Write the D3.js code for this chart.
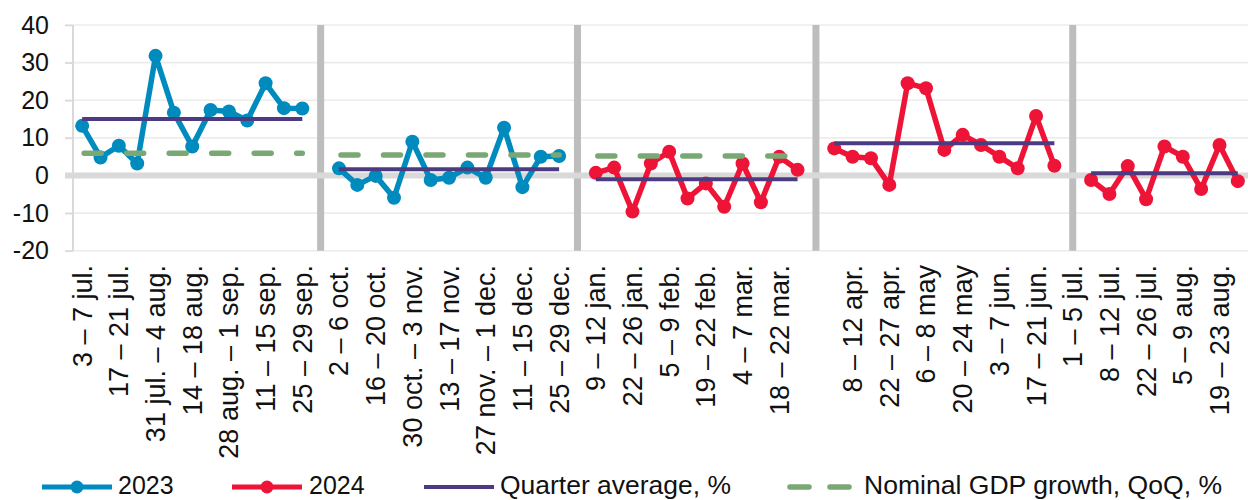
<!DOCTYPE html>
<html>
<head>
<meta charset="utf-8">
<script src="https://cdn.jsdelivr.net/npm/d3@7"></script>
<style>
  html, body { margin: 0; padding: 0; background: #fff; }
  svg { display: block; font-family: "Liberation Sans", Arial, sans-serif; }
</style>
</head>
<body>
<svg id="chart" width="1248" height="500"></svg>
<script>
// ---------------- DATA ----------------
const quarters   = ["Q3 2023", "Q4 2023", "Q1 2024", "Q2 2024", "Q3 2024"];
const quarterYear = ["2023", "2023", "2024", "2024", "2024"];

// weekly values, %, per quarter
const v2023q3 = [13.2, 4.8, 7.9, 3.2, 31.8, 16.7, 7.7, 17.4, 17.0, 14.6, 24.5, 17.9, 17.8];
const v2023q4 = [1.9, -2.5, -0.1, -5.9, 9.0, -1.2, -0.6, 2.1, -0.6, 12.7, -3.1, 5.0, 5.2];
const v2024q1 = [0.7, 2.1, -9.6, 3.2, 6.3, -6.1, -2.1, -8.3, 3.2, -7.1, 5.0, 1.5];
const v2024q2 = [7.2, 5.0, 4.6, -2.5, 24.5, 23.2, 6.8, 10.8, 8.1, 5.0, 1.9, 15.8, 2.6];
const v2024q3 = [-1.2, -4.9, 2.5, -6.3, 7.7, 5.0, -3.6, 8.1, -1.5];
const weekly = [v2023q3, v2023q4, v2024q1, v2024q2, v2024q3];

const quarterAvg = [15.0, 1.65, -1.0, 8.6, 0.6];
const gdpGrowth  = [5.9, 5.45, 5.2, null, null];

// category axis labels (one slot per week plus one empty slot between quarters)
const tickLabels = [
  "3 – 7 jul.", "", "17 – 21 jul.", "", "31 jul. – 4 aug.", "", "14 – 18 aug.", "",
  "28 aug. – 1 sep.", "", "11 – 15 sep.", "", "25 – 29 sep.", "",
  "2 – 6 oct.", "", "16 – 20 oct.", "", "30 oct. – 3 nov.", "", "13 – 17 nov.", "",
  "27 nov. – 1 dec.", "", "11 – 15 dec.", "", "25 – 29 dec.", "",
  "9 – 12 jan.", "", "22 – 26 jan.", "", "5 – 9 feb.", "", "19 – 22 feb.", "",
  "4 – 7 mar.", "", "18 – 22 mar.", "", "",
  "", "8 – 12 apr.", "", "22 – 27 apr.", "", "6 – 8 may", "", "20 – 24 may", "",
  "3 – 7 jun.", "", "17 – 21 jun.", "", "1 – 5 jul.",
  "", "8 – 12 jul.", "", "22 – 26 jul.", "", "5 – 9 aug.", "", "19 – 23 aug.", ""
];
const yTicks = [-20, -10, 0, 10, 20, 30, 40];

// ---------------- STYLE ----------------
const colors = { "2023": "#008bbf", "2024": "#ee1437", avg: "#4d3b82", gdp: "#79a874" };

// ---------------- LAYOUT ----------------
const svg = d3.select("#chart");
const plotLeft = 73, plotRight = 1247, plotTop = 25, plotBottom = 250.75;

// build slot indices: each quarter block followed by an empty separator slot
let slot = 0;
const blocks = weekly.map((vals, q) => {
  const idx = vals.map((v, i) => slot + i);
  slot += vals.length;
  const sep = slot;
  slot += 1;
  return { q, idx, vals, sep };
});
const nSlots = tickLabels.length;

const x = d3.scaleBand().domain(d3.range(nSlots)).range([plotLeft, plotRight]).padding(0);
const cx = i => x(i) + x.bandwidth() / 2;
const y = d3.scaleLinear().domain([d3.min(yTicks), d3.max(yTicks)]).range([plotBottom, plotTop]);

// gridlines
svg.append("g").selectAll("line").data(yTicks.filter(d => d !== 0)).join("line")
  .attr("x1", 65).attr("x2", 1248)
  .attr("y1", d => y(d)).attr("y2", d => y(d))
  .attr("stroke", "#ececec").attr("stroke-width", 1.6);

// separators between quarters
svg.append("g").selectAll("rect").data(blocks.slice(0, blocks.length - 1)).join("rect")
  .attr("x", d => cx(d.sep) - 3.5).attr("width", 7)
  .attr("y", y(40)).attr("height", y(-20) - y(40))
  .attr("fill", "#bdbdbd");

// zero line
svg.append("line")
  .attr("x1", 65).attr("x2", 1248).attr("y1", y(0)).attr("y2", y(0))
  .attr("stroke", "#d9d9d9").attr("stroke-width", 6);

// left axis
const yAxis = d3.axisLeft(y).tickValues(yTicks).tickSize(8).tickPadding(16)
  .tickFormat(d => String(d));
const ga = svg.append("g").attr("transform", `translate(${plotLeft},0)`).call(yAxis);
ga.select(".domain").attr("stroke", "#d9d9d9").attr("stroke-width", 2)
  .attr("d", `M0,${y(40)}V${y(-20)}`);
ga.selectAll(".tick line").attr("stroke", "#d9d9d9").attr("stroke-width", 1.6);
ga.selectAll(".tick text").attr("font-size", 25).attr("fill", "#111")
  .attr("font-family", "Liberation Sans, Arial, sans-serif");

// category labels
svg.append("g").selectAll("text").data(tickLabels.map((t, i) => ({ t, i })).filter(d => d.t))
  .join("text")
  .attr("transform", d => `translate(${cx(d.i)},265) rotate(-90)`)
  .attr("text-anchor", "end").attr("dy", "0.35em")
  .attr("font-size", 27).attr("fill", "#111")
  .text(d => d.t);

// weekly series
const line = d3.line().x(d => cx(d.i)).y(d => y(d.v));
blocks.forEach(b => {
  const pts = b.idx.map((i, k) => ({ i, v: b.vals[k] }));
  const col = colors[quarterYear[b.q]];
  svg.append("path").datum(pts).attr("d", line)
    .attr("fill", "none").attr("stroke", col).attr("stroke-width", 5.5)
    .attr("stroke-linejoin", "round");
  svg.append("g").selectAll("circle").data(pts).join("circle")
    .attr("cx", d => cx(d.i)).attr("cy", d => y(d.v)).attr("r", 7)
    .attr("fill", col);
});

// quarter averages
blocks.forEach(b => {
  const i0 = b.idx[0], i1 = b.idx[b.idx.length - 1];
  svg.append("line")
    .attr("x1", cx(i0)).attr("x2", cx(i1))
    .attr("y1", y(quarterAvg[b.q])).attr("y2", y(quarterAvg[b.q]))
    .attr("stroke", colors.avg).attr("stroke-width", 4);
});

// nominal GDP growth
blocks.forEach(b => {
  const g = gdpGrowth[b.q];
  if (g == null) return;
  const i0 = b.idx[0], i1 = b.idx[b.idx.length - 1];
  svg.append("line")
    .attr("x1", cx(i0) + 2).attr("x2", cx(i1))
    .attr("y1", y(g)).attr("y2", y(g))
    .attr("stroke", colors.gdp).attr("stroke-width", 5.5)
    .attr("stroke-linecap", "round").attr("stroke-dasharray", "17,25.5");
});

// legend
const lg = svg.append("g");
const ly = 487, lt = 494;
[["2023", 42, 118], ["2024", 232, 309]].forEach(([k, x0, tx]) => {
  lg.append("line").attr("x1", x0).attr("x2", x0 + 70).attr("y1", ly).attr("y2", ly)
    .attr("stroke", colors[k]).attr("stroke-width", 5);
  lg.append("circle").attr("cx", x0 + 35).attr("cy", ly).attr("r", 6.5).attr("fill", colors[k]);
  lg.append("text").attr("x", tx).attr("y", lt).attr("font-size", 25).attr("fill", "#111").text(k);
});
lg.append("line").attr("x1", 424).attr("x2", 494).attr("y1", ly).attr("y2", ly)
  .attr("stroke", colors.avg).attr("stroke-width", 4);
lg.append("text").attr("x", 500).attr("y", lt).attr("font-size", 25).attr("fill", "#111")
  .attr("textLength", 231).attr("lengthAdjust", "spacingAndGlyphs")
  .text("Quarter average, %");
lg.append("line").attr("x1", 790).attr("x2", 852).attr("y1", ly).attr("y2", ly)
  .attr("stroke", colors.gdp).attr("stroke-width", 5.5).attr("stroke-linecap", "round")
  .attr("stroke-dasharray", "19,21");
lg.append("text").attr("x", 864).attr("y", lt).attr("font-size", 25).attr("fill", "#111")
  .attr("textLength", 358).attr("lengthAdjust", "spacingAndGlyphs")
  .text("Nominal GDP growth, QoQ, %");
</script>
</body>
</html>
